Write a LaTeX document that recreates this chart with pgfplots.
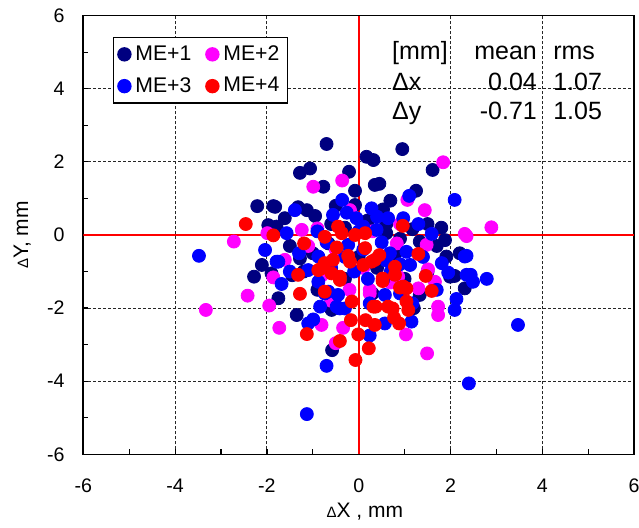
\documentclass[border=0pt]{standalone}
\usepackage{fontspec}
\setmainfont{Liberation Sans}
\usepackage{pgfplots}
\pgfplotsset{compat=1.18}
\definecolor{meone}{RGB}{0,0,128}
\definecolor{metwo}{RGB}{255,0,255}
\definecolor{methree}{RGB}{0,0,255}
\definecolor{mefour}{RGB}{255,0,0}
\begin{document}
\begin{tikzpicture}
\begin{axis}[
  scale only axis, width=275.4pt, height=219.3pt,
  xmin=-6, xmax=6, ymin=-6, ymax=6,
  xtick={-6,-4,...,6}, ytick={-6,-4,...,6},
  minor tick num=1,
  major tick length=2.5pt, minor tick length=2.5pt,
  tick align=inside, xtick pos=bottom, ytick pos=left,
  axis line style={line width=0.8pt},
  every tick/.style={black, line width=0.6pt},
  grid=major,
  major grid style={black!85, line width=0.5pt, dash pattern=on 1.5pt off 1pt},
  /pgf/number format/assume math mode=true,
  tick label style={font=\fontsize{9.8}{12}\selectfont, inner sep=0pt},
  xticklabel style={anchor=center, yshift=-15.7pt},
  yticklabel style={anchor=east, xshift=-9.2pt},
  every axis x label/.style={at={(axis description cs:0.511,-0.131)}, anchor=center},
  every axis y label/.style={at={(axis description cs:-0.111,0.5)}, anchor=center, rotate=90},
  label style={font=\fontsize{10.5}{12}\selectfont},
  xlabel={{\fontsize{7.5}{9}\selectfont Δ}X , mm},
  ylabel={{\fontsize{7.5}{9}\selectfont Δ}Y, mm},
  legend columns=2,
  legend cell align=left,
  legend style={at={(axis description cs:0.0534,0.952)}, anchor=north west,
    font=\fontsize{10.6}{12}\selectfont, draw=black, line width=0.7pt,
    inner xsep=2pt, inner ysep=2pt, row sep=3pt,
    /tikz/every even column/.append style={column sep=5pt}},
  legend image code/.code={\path[draw=none,fill=none] (0pt,-3.3pt) rectangle (7pt,3.3pt); \draw[#1] plot coordinates {(3.5pt,0pt)};},
  every axis plot/.append style={only marks, mark=*, mark size=3.25pt, mark options={draw=none}},
]
\addplot[color=meone, mark options={fill=meone, draw=none}] coordinates {
(-2.21,0.79) (-1.86,0.79) (-1.97,0.27) (-2.11,-0.82) (-2.28,-1.14) (-0.70,2.49)
(-1.28,1.70) (-1.06,1.82) (-0.77,1.32) (-0.21,1.73) (-0.08,1.21) (0.17,2.14)
(0.32,2.05) (0.95,2.35) (-1.82,0.77) (-1.61,0.46) (-1.32,0.76) (-1.13,0.68)
(-0.95,0.52) (-0.08,0.82) (-1.79,0.23) (-1.28,-0.64) (-0.66,-0.23) (1.61,1.78)
(0.45,1.40) (1.25,1.21) (0.69,0.94) (0.53,0.70) (1.17,0.16) (1.88,-0.14)
(1.33,-0.18) (1.91,-0.59) (2.20,-0.50) (-1.75,-1.73) (-1.35,-2.19) (-0.59,-2.05)
(-0.58,-3.15) (1.33,-1.64) (2.31,-1.46) (1.99,-1.14) (2.09,-1.12) (-1.90,-1.05)
(0.35,1.37) (-1.5,-0.3) (-1.0,-0.5) (-0.6,0.3) (-0.3,0.2) (0.2,0.4) (0.6,0.3)
(0.9,-0.1) (1.5,0.3) (0.0,-0.6) (-0.9,-1.5) (-0.3,-1.2) (0.4,-0.9) (1.0,-1.2)
(0.8,-0.5) (1.7,-0.3) (-1.2,-1.0) (0.3,-1.6) (1.2,-2.0) (-1.45,-1.1) (0.6,0.05)
(-0.5,0.8) (1.5,-1.0) (1.8,0.2)
};
\addlegendentry{ME+1}
\addplot[color=metwo, mark options={fill=metwo, draw=none}] coordinates {
(-2.72,-0.18) (-1.99,0.05) (-1.86,-1.16) (-0.99,1.32) (-0.36,1.49) (-0.19,0.68)
(-1.24,0.14) (-0.90,0.18) (-1.61,-0.68) (1.84,1.99) (1.06,0.96) (1.44,0.68)
(2.31,0.03) (0.83,-0.23) (1.48,-0.27) (1.51,-0.94) (0.86,-1.14) (2.89,0.21)
(2.35,-0.03) (-2.42,-1.66) (-3.33,-2.05) (-1.95,-1.93) (-1.73,-2.54) (-0.81,-2.46)
(-0.34,-2.54) (-0.50,-2.96) (0.24,-1.60) (1.66,-1.28) (1.30,-1.46) (1.03,-2.72)
(1.49,-3.24) (1.73,-1.96) (1.73,-2.19) (0.24,-1.50) (-0.5,-0.4) (0.5,-0.6)
(0.1,-0.9) (-0.8,-1.1) (0.7,-1.3) (-0.2,-1.5) (0.9,0.3) (-1.1,-0.3) (-0.6,-1.8)
(0.3,0.1)
};
\addlegendentry{ME+2}
\addplot[color=methree, mark options={fill=methree, draw=none}] coordinates {
(-3.48,-0.57) (-2.04,-0.41) (-1.79,-0.73) (-0.36,0.96) (-1.39,0.68) (-0.56,0.55)
(-0.26,0.61) (-0.05,0.46) (-1.57,0.05) (-1.75,-0.73) (-0.88,-0.59) (-0.23,-0.27)
(0.10,0.23) (-1.10,-0.96) (1.10,1.07) (2.09,0.96) (0.28,0.73) (0.64,0.46)
(0.97,0.46) (1.59,0.03) (0.39,0.14) (1.04,-0.46) (0.68,-0.50) (1.81,-0.77)
(2.31,-0.59) (1.12,-0.82) (1.95,-1.03) (2.35,-1.09) (2.35,-0.57) (2.44,-1.09)
(2.79,-1.20) (-1.68,-1.34) (-1.10,-2.42) (-0.99,-2.31) (-1.13,-4.90) (-0.84,-1.96)
(-0.41,-2.01) (-0.70,-3.58) (0.24,-2.75) (-0.74,-1.60) (-0.66,-1.55) (-0.45,-1.64)
(-0.30,-2.01) (-0.48,-1.96) (-0.88,-1.28) (1.17,-1.87) (0.57,-2.42) (1.15,-2.37)
(2.09,-2.05) (2.13,-1.75) (2.40,-4.06) (3.47,-2.46) (2.49,-1.28) (0.57,-1.64)
(0.53,-1.23) (0.24,-1.87) (-0.3,-0.6) (0.1,-0.4) (0.5,-0.2) (0.9,-0.8)
(-0.6,-0.9) (-1.3,-0.5) (-0.9,0.1) (0.2,-1.2) (0.7,-1.0) (1.4,-0.6) (-0.1,-1.0)
(0.4,0.5) (-0.7,-0.2) (1.3,0.3) (0.0,0.1) (-0.4,-1.2) (0.6,-0.7) (-1.5,-1.0)
(1.7,-1.5) (0.9,-1.6)
};
\addlegendentry{ME+3}
\addplot[color=mefour, mark options={fill=mefour, draw=none}] coordinates {
(-2.46,0.30) (-1.86,-0.01) (-0.45,0.23) (-0.37,0.05) (-0.74,-0.05) (-0.08,0.0)
(0.14,0.05) (-1.19,-0.23) (-0.48,-0.34) (-0.56,-0.68) (-0.23,-0.57) (-0.74,-0.77)
(0.14,-0.36) (0.10,-0.82) (-0.88,-0.96) (-1.32,-1.09) (-0.41,-1.14) (0.96,0.25)
(1.30,-0.52) (0.45,-0.55) (0.28,-0.73) (0.79,-0.87) (1.46,-1.12) (0.52,-1.19)
(0.79,-1.09) (-1.13,-2.71) (-1.28,-1.61) (-0.15,-1.82) (-0.17,-2.33) (-0.01,-2.72)
(0.15,-2.33) (0.22,-3.10) (-0.41,-2.90) (-0.07,-3.42) (-0.41,-1.23) (0.32,-1.96)
(0.52,-1.26) (0.90,-1.44) (1.04,-1.46) (1.59,-1.53) (0.37,-1.96) (0.74,-2.01)
(1.04,-1.82) (1.08,-2.05) (0.77,-2.26) (0.88,-2.42) (0.35,-2.46) (-0.74,-1.55)
(-0.59,-1.05) (-0.81,-0.91) (-0.19,-0.73) (0.35,-0.68) (0.97,-1.41) (0.64,-1.96)
};
\addlegendentry{ME+4}
\addplot[forget plot, no marks, sharp plot, red, line width=1pt] coordinates {(-6,0) (6,0)};
\addplot[forget plot, no marks, sharp plot, red, line width=1pt] coordinates {(0,-6) (0,6)};
\begin{scope}[font=\fontsize{12.5}{15}\selectfont]
\node[anchor=base west, inner sep=0pt] at (axis cs:0.72,4.79) {[mm]};
\node[anchor=base east, inner sep=0pt] at (axis cs:3.89,4.79) {mean};
\node[anchor=base west, inner sep=0pt] at (axis cs:4.23,4.79) {rms};
\node[anchor=base west, inner sep=0pt] at (axis cs:0.72,3.94) {Δx};
\node[anchor=base east, inner sep=0pt] at (axis cs:3.89,3.94) {0.04};
\node[anchor=base west, inner sep=0pt] at (axis cs:4.23,3.94) {1.07};
\node[anchor=base west, inner sep=0pt] at (axis cs:0.72,3.15) {Δy};
\node[anchor=base east, inner sep=0pt] at (axis cs:3.89,3.15) {-0.71};
\node[anchor=base west, inner sep=0pt] at (axis cs:4.23,3.15) {1.05};
\end{scope}
\end{axis}
\pgfresetboundingbox
\path[use as bounding box] (-41.65pt,-36.35pt) rectangle (277.85pt,227.15pt);
\end{tikzpicture}
\end{document}
